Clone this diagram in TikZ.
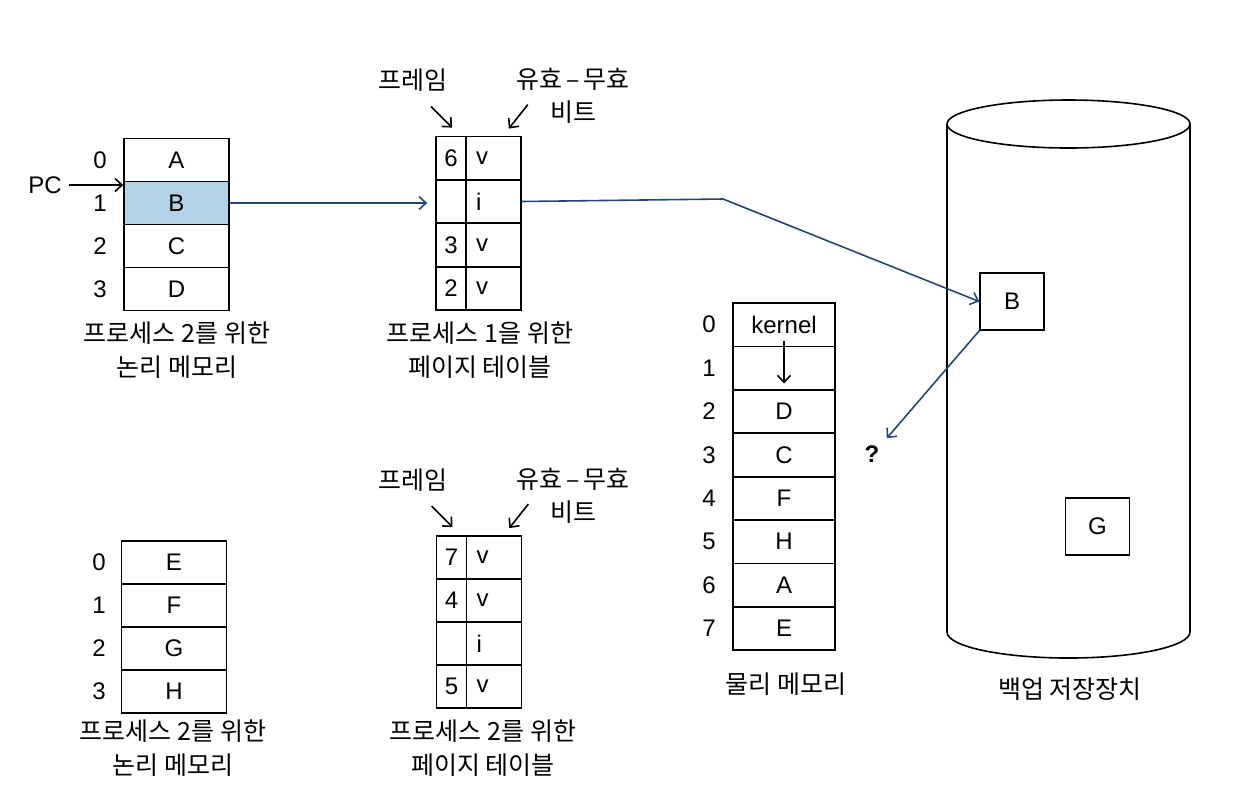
\documentclass[tikz,border=0pt]{standalone}
\usepackage{fontspec}
\usetikzlibrary{arrows.meta}
\setmainfont{Liberation Sans}
\newfontfamily\kr{Noto Sans CJK KR}
\definecolor{linkblue}{RGB}{35,70,120}
\definecolor{pagehl}{RGB}{178,210,232}

\begin{document}
\begin{tikzpicture}[x=0.5pt, y=-0.5pt, line width=0.8pt, >={Straight Barb[length=3.5pt,width=6.5pt]},
    mcell/.style={draw, minimum width=52.5pt, minimum height=21.6pt, inner sep=0pt, font=\fontsize{12}{14}\selectfont},
    fcell/.style={draw, minimum width=15pt, minimum height=21.6pt, inner sep=0pt, font=\fontsize{12}{14}\selectfont},
    bcell/.style={draw, text width=17.5pt, inner xsep=5pt, inner ysep=0pt, minimum height=21.6pt, align=left, font=\fontsize{12}{14}\selectfont},
    idx/.style={font=\fontsize{12}{14}\selectfont},
    caption/.style={align=center, font=\kr\fontsize{12.5}{17}\selectfont},
    sbox/.style={draw, minimum width=32pt, minimum height=28.5pt, inner sep=0pt, font=\fontsize{12}{14}\selectfont}]
    \useasboundingbox (0,0) rectangle (1234,800);

    % logical memory, top
    \node[mcell] (lA) at (176.5,160) {A};
    \node[mcell, fill=pagehl] (lB) at (176.5,203) {B};
    \node[mcell] (lC) at (176.5,246) {C};
    \node[mcell] (lD) at (176.5,289) {D};
    \node[idx] at (100,160) {0};
    \node[idx] at (100,203) {1};
    \node[idx] at (100,246) {2};
    \node[idx] at (100,289) {3};
    \node[idx] (pc) at (45,185) {PC};
    \node[caption] (l1cap) at (177,350) {프로세스 2를 위한\\논리 메모리};

    % page table, process 1
    \node[fcell] (p1f0) at (451,158) {6};
    \node[bcell] (p1b0) at (493.5,158) {v};
    \node[fcell] (p1f1) at (451,201.5) {};
    \node[bcell] (p1b1) at (493.5,201.5) {i};
    \node[fcell] (p1f2) at (451,245) {3};
    \node[bcell] (p1b2) at (493.5,245) {v};
    \node[fcell] (p1f3) at (451,288.5) {2};
    \node[bcell] (p1b3) at (493.5,288.5) {v};
    \node[caption] (fr1) at (413,80) {프레임};
    \node[caption, font=\kr\fontsize{12.5}{16.5}\selectfont] (vb1) at (573,96) {유효\,–\,무효\\비트};
    \node[caption] (p1cap) at (480,350) {프로세스 1을 위한\\페이지 테이블};

    % logical memory, bottom
    \node[mcell] (mE) at (174,562.5) {E};
    \node[mcell] (mF) at (174,605.5) {F};
    \node[mcell] (mG) at (174,648.5) {G};
    \node[mcell] (mH) at (174,691.5) {H};
    \node[idx] at (99,562.5) {0};
    \node[idx] at (99,605.5) {1};
    \node[idx] at (99,648.5) {2};
    \node[idx] at (99,691.5) {3};
    \node[caption] (l2cap) at (173,748) {프로세스 2를 위한\\논리 메모리};

    % page table, process 2
    \node[fcell] (p2f0) at (451.5,557.5) {7};
    \node[bcell] (p2b0) at (494,557.5) {v};
    \node[fcell] (p2f1) at (451.5,600.5) {4};
    \node[bcell] (p2b1) at (494,600.5) {v};
    \node[fcell] (p2f2) at (451.5,643.5) {};
    \node[bcell] (p2b2) at (494,643.5) {i};
    \node[fcell] (p2f3) at (451.5,686.5) {5};
    \node[bcell] (p2b3) at (494,686.5) {v};
    \node[caption] (fr2) at (413,480) {프레임};
    \node[caption, font=\kr\fontsize{12.5}{16.5}\selectfont] (vb2) at (573,496) {유효\,–\,무효\\비트};
    \node[caption] (p2cap) at (483,748) {프로세스 2를 위한\\페이지 테이블};

    % physical memory
    \node[mcell, minimum width=51pt] (k0) at (784,324.7) {kernel};
    \node[mcell, minimum width=51pt] (k1) at (784,368.1) {};
    \node[mcell, minimum width=51pt] (k2) at (784,411.5) {D};
    \node[mcell, minimum width=51pt] (k3) at (784,454.9) {C};
    \node[mcell, minimum width=51pt] (k4) at (784,498.3) {F};
    \node[mcell, minimum width=51pt] (k5) at (784,541.7) {H};
    \node[mcell, minimum width=51pt] (k6) at (784,585.1) {A};
    \node[mcell, minimum width=51pt] (k7) at (784,628.5) {E};
    \node[idx] at (709,324.7) {0};
    \node[idx] at (709,368.1) {1};
    \node[idx] at (709,411.5) {2};
    \node[idx] at (709,454.9) {3};
    \node[idx] at (709,498.3) {4};
    \node[idx] at (709,541.7) {5};
    \node[idx] at (709,585.1) {6};
    \node[idx] at (709,628.5) {7};
    \node[caption] (pmcap) at (786,684) {물리 메모리};

    % backing store
    \draw (1068.5,124) ellipse [x radius=60.75pt, y radius=12pt];
    \draw (947,124) -- (947,632) arc [start angle=180, end angle=360, x radius=60.75pt, y radius=13pt] -- (1190,124);
    \node[sbox] (sB) at (1012,301.5) {B};
    \node[sbox] (sG) at (1097.5,526.5) {G};
    \node[caption] (bscap) at (1070,689) {백업 저장장치};
    \node[font=\bfseries\fontsize{12}{14}\selectfont] (q) at (872,454) {?};
    \coordinate (bend) at (723,199);

    \draw[->] (pc) -- (pc -| lB.west);
    \draw[->, linkblue] (lB.east) -- (lB.east -| p1f1.west) [shorten >=4pt];
    \draw[->, linkblue] (p1b1.east) -- (bend) -- (sB.west);
    \draw[->, linkblue] (sB.south west) -- (q.north east);
    \draw[->] ([yshift=3pt]k0.south) -- ([yshift=3.5pt]k1.south);

    \draw[->] ([shift={(-10pt,14.5pt)}]p1f0.north) -- ([shift={(0.5pt,4pt)}]p1f0.north);
    \draw[->] ([shift={(3pt,15.5pt)}]p1b0.north east) -- ([shift={(-6.5pt,3.5pt)}]p1b0.north east);
    \draw[->] ([shift={(-10pt,14.5pt)}]p2f0.north) -- ([shift={(0.5pt,4pt)}]p2f0.north);
    \draw[->] ([shift={(3pt,15.5pt)}]p2b0.north east) -- ([shift={(-6.5pt,3.5pt)}]p2b0.north east);
\end{tikzpicture}
\end{document}
